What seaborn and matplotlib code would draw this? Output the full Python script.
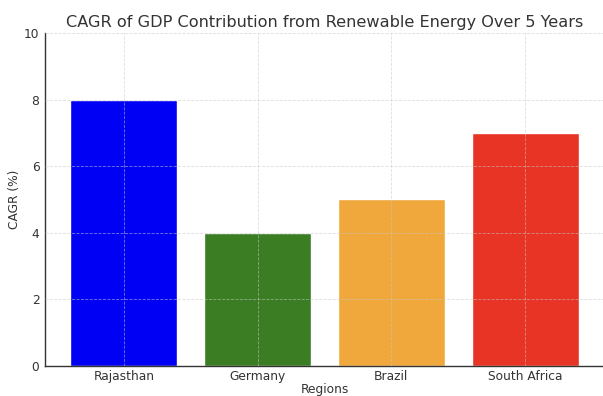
import matplotlib
matplotlib.use("Agg")
import matplotlib.pyplot as plt
import seaborn as sns
import pandas as pd

regions = ["Rajasthan", "Germany", "Brazil", "South Africa"]
cagr = [8, 4, 5, 7]
colors = ["#0000f5", "#3a7d23", "#f0a83c", "#e83424"]

df = pd.DataFrame({"Regions": regions, "CAGR": cagr})

sns.set_style("white")
plt.rcParams["font.family"] = ["DejaVu Sans"]

fig = plt.figure(figsize=(6.03, 3.96), dpi=100)
ax = fig.add_axes([45 / 603, 1 - 366 / 396, 559 / 603, 333 / 396])

sns.barplot(data=df, x="Regions", y="CAGR", hue="Regions", palette=colors,
            saturation=1, width=0.8, legend=False, ax=ax)
ax.set_xlim(-0.59, 3.59)
ax.set_ylim(0, 10)
ax.set_yticks([0, 2, 4, 6, 8, 10])

ax.set_axisbelow(False)
ax.grid(True, linestyle="--", linewidth=0.6, color="#c8c8c8", alpha=0.6)

sns.despine(ax=ax, top=True, right=True)
for s in ["left", "bottom"]:
    ax.spines[s].set_color("#333333")
    ax.spines[s].set_linewidth(1.0)

ax.tick_params(axis="both", labelsize=8.8, colors="#333333", length=2, width=0.8,
               direction="out")
ax.tick_params(axis="x", pad=1)
ax.tick_params(axis="y", pad=2)
ax.set_title("CAGR of GDP Contribution from Renewable Energy Over 5 Years",
             fontsize=11.6, color="#333333", pad=4)
ax.set_xlabel("Regions", fontsize=8.8, color="#333333", labelpad=0)
ax.set_ylabel("CAGR (%)", fontsize=8.8, color="#333333", labelpad=2)

fig.savefig("out.png", dpi=100)
